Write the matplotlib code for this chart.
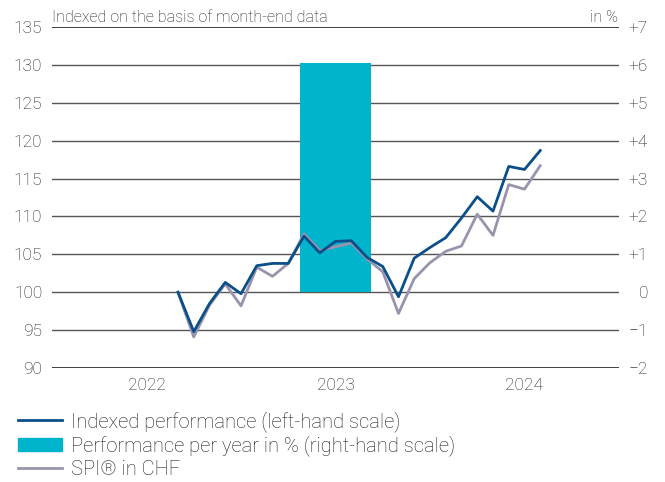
import matplotlib
matplotlib.use("Agg")
import matplotlib.pyplot as plt
from matplotlib.lines import Line2D
from matplotlib.patches import Patch

plt.rcParams['font.family'] = ['Roboto', 'DejaVu Sans']
plt.rcParams['font.weight'] = 'light'

# month-end positions (months since 1 Jan 2022): Aug 2022 .. Jul 2024
months = list(range(8, 32))
fund = [100.0, 94.8, 98.5, 101.3, 99.8, 103.5, 103.8, 103.8, 107.4, 105.2, 106.7, 106.8,
        104.6, 103.4, 99.4, 104.5, 105.9, 107.2, 109.8, 112.6, 110.7, 116.6, 116.2, 118.7]
spi = [100.0, 94.1, 98.3, 101.1, 98.2, 103.3, 102.1, 103.8, 107.7, 105.5, 106.0, 106.5,
       104.4, 102.7, 97.2, 101.8, 103.9, 105.4, 106.1, 110.3, 107.5, 114.2, 113.6, 116.7]
years = ['2022', '2023', '2024']
year_pos = [6, 18, 30]
bar_years_pos = [18]
bar_values = [6.06]

left_ticks = list(range(90, 136, 5))
right_ticks = list(range(-2, 8))
right_labels = ['\u22122', '\u22121', '0', '+1', '+2', '+3', '+4', '+5', '+6', '+7']

BLUE = '#0b4f8a'
GRAY = '#9a93ad'
CYAN = '#00b4cc'
GRID = '#555555'
TXT = '#1e1e1e'

fig = plt.figure(figsize=(6.65, 4.82), dpi=100)
ax = fig.add_axes([52/665, 1-368/482, 567/665, 341/482])
ax2 = ax.twinx()

ax.set_xlim(0, 36)
ax.set_ylim(90, 135)
ax2.set_ylim(-2, 7)

ax2.bar(bar_years_pos, bar_values, width=4.46, color=CYAN, zorder=2)
for v in left_ticks:
    lw = 1.3 if v in (90, 135) else 1.0
    col = '#333333' if v in (90, 135) else GRID
    ax.axhline(v, color=col, lw=lw, zorder=0)

ax.set_zorder(1)
ax2.set_zorder(2)
ax2.plot(months, [(v - 100) / 5 for v in spi], color=GRAY, lw=2.0, zorder=3)
ax2.plot(months, [(v - 100) / 5 for v in fund], color=BLUE, lw=2.0, zorder=4)

for a in (ax, ax2):
    for s in a.spines.values():
        s.set_visible(False)
    a.patch.set_visible(False)

ax.set_yticks(left_ticks)
ax.set_yticklabels([str(t) for t in left_ticks], fontsize=12.5, color=TXT)
ax.tick_params(axis='y', length=0, pad=7)
ax.set_xticks(year_pos)
ax.set_xticklabels(years, fontsize=12.5, color=TXT)
ax.tick_params(axis='x', length=0, pad=7)

ax2.set_yticks(right_ticks)
ax2.set_yticklabels(right_labels, fontsize=12.5, color=TXT)
ax2.tick_params(axis='y', length=0, pad=21)
for lab in ax2.get_yticklabels():
    lab.set_horizontalalignment('right')

fig.text(52/665, 1-17/482, 'Indexed on the basis of month-end data', fontsize=11.5,
         color=TXT, ha='left', va='center')
fig.text(618/665, 1-17/482, 'in %', fontsize=11.5, color=TXT, ha='right', va='center')

handles = [Line2D([], [], color=BLUE, lw=2),
           Patch(color=CYAN),
           Line2D([], [], color=GRAY, lw=2)]
labels = ['Indexed performance (left-hand scale)',
          'Performance per year in % (right-hand scale)',
          'SPI\u00ae in CHF']
fig.legend(handles, labels, loc='upper left', bbox_to_anchor=(18/665, 1-411/482),
           frameon=False, fontsize=14.5, handlelength=2.2, handleheight=0.6,
           labelspacing=0.18, handletextpad=0.45, borderpad=0, borderaxespad=0,
           labelcolor=TXT)

fig.savefig('out.png', dpi=100)
